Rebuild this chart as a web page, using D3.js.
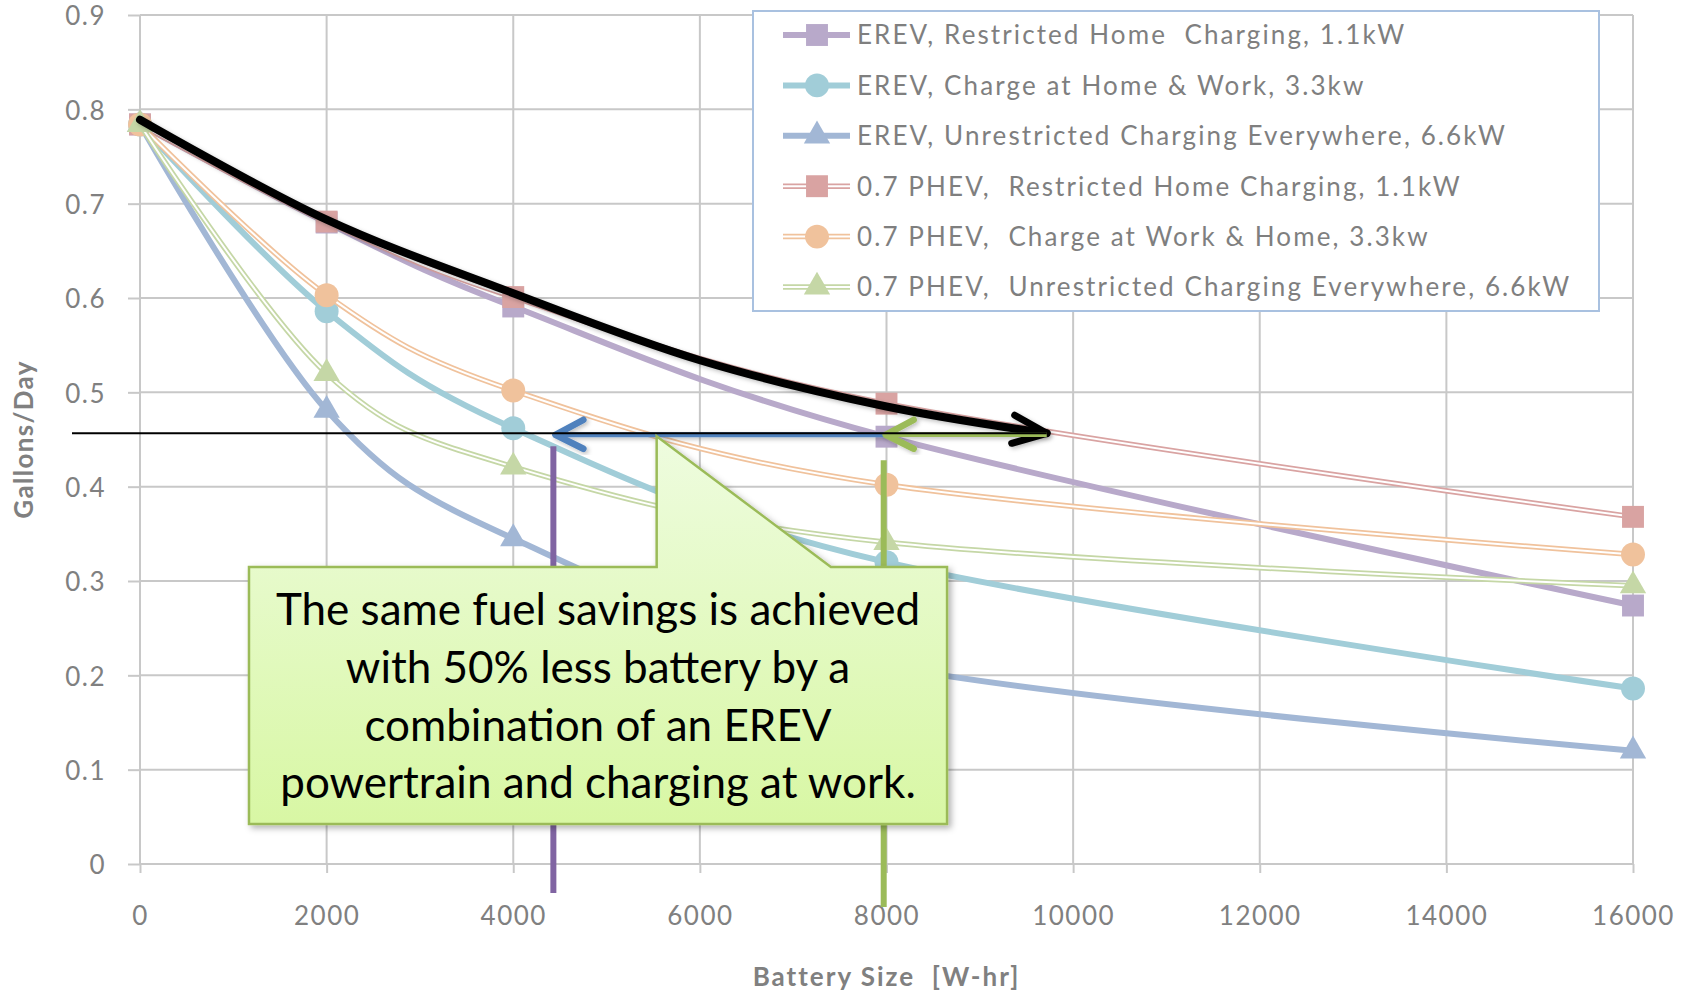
<!DOCTYPE html>
<html>
<head>
<meta charset="utf-8">
<script src="https://cdn.jsdelivr.net/npm/d3@7"></script>
<style>
  body { margin: 0; background: #fff; }
  svg { display: block; font-family: Lato, "Open Sans", sans-serif; }
</style>
</head>
<body>
<div id="chart"></div>
<script>
// chart size, plot area matches the Excel original
const width = 1694, height = 993;
const margin = {top: 15, right: 61, bottom: 129, left: 140};
const innerW = width - margin.left - margin.right,
  innerH = height - margin.top - margin.bottom;

// data (gallons/day vs battery W-hr)
const batterySizes = [0, 2000, 4000, 8000, 16000];
const seriesNames = [
  "EREV, Restricted Home  Charging, 1.1kW",
  "EREV, Charge at Home & Work, 3.3kw",
  "EREV, Unrestricted Charging Everywhere, 6.6kW",
  "0.7 PHEV,  Restricted Home Charging, 1.1kW",
  "0.7 PHEV,  Charge at Work & Home, 3.3kw",
  "0.7 PHEV,  Unrestricted Charging Everywhere, 6.6kW"
];
const erevRestricted   = [0.784, 0.680, 0.591, 0.453, 0.274];
const erevHomeWork     = [0.784, 0.586, 0.462, 0.320, 0.186];
const erevUnrestricted = [0.784, 0.481, 0.345, 0.210, 0.120];
const phevRestricted   = [0.784, 0.681, 0.601, 0.488, 0.368];
const phevWorkHome     = [0.784, 0.603, 0.502, 0.402, 0.328];
const phevUnrestricted = [0.784, 0.520, 0.421, 0.341, 0.295];
const xTicks = [0, 2000, 4000, 6000, 8000, 10000, 12000, 14000, 16000];
const yTicks = [0, 0.1, 0.2, 0.3, 0.4, 0.5, 0.6, 0.7, 0.8, 0.9];

// annotation, in data units
const targetLevel = 0.4566;
const envelopeArrow = [[0, 0.789], [2000, 0.683], [4000, 0.605], [6000, 0.534], [8000, 0.485], [9717, targetLevel]];
const erevMatch = 4430, phevMatch = 7970, phevFull = 9720;
const calloutLines = [
  "The same fuel savings is achieved",
  "with 50% less battery by a",
  "combination of an EREV",
  "powertrain and charging at work."
];

const allValues = [erevRestricted, erevHomeWork, erevUnrestricted, phevRestricted, phevWorkHome, phevUnrestricted];
const styles = [
  {color: "#b8a9ca", double: false, symbol: d3.symbolSquare, size: 480},
  {color: "#a1cdd8", double: false, symbol: d3.symbolCircle, size: 450},
  {color: "#a2b7d5", double: false, symbol: d3.symbolTriangle, size: 300},
  {color: "#d9a3a2", double: true, symbol: d3.symbolSquare, size: 480},
  {color: "#f0c29c", double: true, symbol: d3.symbolCircle, size: 450},
  {color: "#c5d7a6", double: true, symbol: d3.symbolTriangle, size: 300}
];

const series = seriesNames.map((name, i) => ({
  name, style: styles[i],
  points: batterySizes.map((b, j) => [b, allValues[i][j]])
}));

const x = d3.scaleLinear().domain([0, 16000]).range([0, innerW]);
const y = d3.scaleLinear().domain([0, 0.9]).range([innerH, 0]);

const svg = d3.select("#chart").append("svg")
  .attr("width", width).attr("height", height);

const defs = svg.append("defs");
const grad = defs.append("linearGradient").attr("id", "calloutFill")
  .attr("x1", 0).attr("y1", 0).attr("x2", 0).attr("y2", 1);
grad.append("stop").attr("offset", "0%").attr("stop-color", "#eefcdf");
grad.append("stop").attr("offset", "100%").attr("stop-color", "#d8f7a4");
const shadow = defs.append("filter").attr("id", "shadow")
  .attr("x", "-10%").attr("y", "-10%").attr("width", "130%").attr("height", "130%");
shadow.append("feDropShadow").attr("dx", 3).attr("dy", 3).attr("stdDeviation", 3)
  .attr("flood-color", "#000").attr("flood-opacity", 0.3);
const softShadow = defs.append("filter").attr("id", "softShadow")
  .attr("x", "-10%").attr("y", "-10%").attr("width", "130%").attr("height", "130%");
softShadow.append("feDropShadow").attr("dx", 2).attr("dy", 2).attr("stdDeviation", 2)
  .attr("flood-color", "#000").attr("flood-opacity", 0.25);

const g = svg.append("g").attr("transform", `translate(${margin.left},${margin.top})`);

// gridlines
g.append("g").selectAll("line").data(yTicks).join("line")
  .attr("x1", 0).attr("x2", innerW)
  .attr("y1", d => y(d)).attr("y2", d => y(d))
  .attr("stroke", "#c8c8c8").attr("stroke-width", 2);
g.append("g").selectAll("line").data(xTicks).join("line")
  .attr("x1", d => x(d)).attr("x2", d => x(d))
  .attr("y1", 0).attr("y2", innerH)
  .attr("stroke", "#c8c8c8").attr("stroke-width", 2);

// axes
const yAxis = g.append("g")
  .call(d3.axisLeft(y).tickValues(yTicks).tickSize(12).tickPadding(22)
    .tickFormat(d => d === 0 ? "0" : d3.format(".1f")(d)));
const xAxis = g.append("g").attr("transform", `translate(0,${innerH})`)
  .call(d3.axisBottom(x).tickValues(xTicks).tickSize(9).tickFormat(d3.format("d")));
[xAxis, yAxis].forEach(a => {
  a.select(".domain").remove();
  a.selectAll(".tick line").attr("stroke", "#c8c8c8").attr("stroke-width", 2);
  a.selectAll(".tick text").attr("fill", "#808080")
    .style("font-size", "26px").style("letter-spacing", "1.5px")
    .style("font-family", "Lato, sans-serif");
});
xAxis.selectAll(".tick text").attr("y", 61).attr("dy", 0);
yAxis.selectAll(".tick text").attr("dy", "0.38em");

// axis titles
svg.append("text")
  .attr("transform", `translate(33,${margin.top + innerH / 2}) rotate(-90)`)
  .attr("text-anchor", "middle").attr("fill", "#808080")
  .style("font-size", "26px").style("font-weight", "bold").style("letter-spacing", "1.3px")
  .text("Gallons/Day");
svg.append("text")
  .attr("x", margin.left + innerW / 2).attr("y", 986)
  .attr("text-anchor", "middle").attr("fill", "#808080")
  .style("font-size", "26px").style("font-weight", "bold").style("letter-spacing", "2px")
  .style("white-space", "pre")
  .text("Battery Size  [W-hr]");

// series lines
const line = d3.line().x(d => x(d[0])).y(d => y(d[1])).curve(d3.curveCardinal.tension(0));
const sg = g.append("g").selectAll("g").data(series).join("g");
sg.append("path")
  .attr("d", d => line(d.points)).attr("fill", "none")
  .attr("stroke", d => d.style.color)
  .attr("stroke-width", d => d.style.double ? 5.5 : 6);
sg.filter(d => d.style.double).append("path")
  .attr("d", d => line(d.points)).attr("fill", "none")
  .attr("stroke", "#fff").attr("stroke-width", 2);
sg.selectAll(".marker").data(d => d.points.map(p => ({p, s: d.style}))).join("path")
  .attr("class", "marker")
  .attr("transform", d => `translate(${x(d.p[0])},${y(d.p[1])})`)
  .attr("d", d => d3.symbol(d.s.symbol, d.s.size)())
  .attr("fill", d => d.s.color);

// legend
const legend = svg.append("g");
legend.append("rect")
  .attr("x", 753).attr("y", 11).attr("width", 846).attr("height", 300)
  .attr("fill", "#fff").attr("stroke", "#a9c1e0").attr("stroke-width", 2);
const li = legend.selectAll(".item").data(series).join("g").attr("class", "item")
  .attr("transform", (d, i) => `translate(783,${35 + i * 50.4})`);
li.append("line").attr("x1", 0).attr("x2", 67)
  .attr("stroke", d => d.style.color).attr("stroke-width", d => d.style.double ? 5.5 : 6);
li.filter(d => d.style.double).append("line").attr("x1", 0).attr("x2", 67)
  .attr("stroke", "#fff").attr("stroke-width", 2);
li.append("path").attr("transform", "translate(34,0)")
  .attr("d", d => d3.symbol(d.style.symbol, d.style.size)())
  .attr("fill", d => d.style.color);
li.append("text").attr("x", 74).attr("dy", "0.36em")
  .attr("fill", "#7f7f7f").style("font-size", "26px").style("letter-spacing", "2.1px")
  .style("white-space", "pre")
  .text(d => d.name);

// annotation: arrows and markers
const ann = g.append("g");
const curvy = d3.line().x(d => x(d[0])).y(d => y(d[1])).curve(d3.curveCatmullRom);
const tip = [envelopeArrow[envelopeArrow.length - 1][0], targetLevel];
const black = ann.append("g").attr("filter", "url(#softShadow)");
black.append("path").attr("d", curvy(envelopeArrow)).attr("fill", "none")
  .attr("stroke", "#000").attr("stroke-width", 8).attr("stroke-linecap", "round");
black.append("path")
  .attr("d", `M${x(tip[0]) - 32},${y(tip[1]) - 18}L${x(tip[0])},${y(tip[1])}L${x(tip[0]) - 35},${y(tip[1]) + 10}`)
  .attr("fill", "none").attr("stroke", "#000").attr("stroke-width", 7)
  .attr("stroke-linecap", "round").attr("stroke-linejoin", "round");

function leftArrow(from, to, color, shaftW) {
  const a = ann.append("g").attr("filter", "url(#softShadow)");
  const ty = y(targetLevel) + 1.5;
  a.append("line").attr("x1", x(from)).attr("x2", x(to)).attr("y1", ty).attr("y2", ty)
    .attr("stroke", color).attr("stroke-width", shaftW);
  a.append("path")
    .attr("d", `M${x(to) + 30},${ty - 15}L${x(to) + 2},${ty}L${x(to) + 30},${ty + 14}`)
    .attr("fill", "none").attr("stroke", color).attr("stroke-width", 6.5)
    .attr("stroke-linecap", "round").attr("stroke-linejoin", "round");
}
leftArrow(8000, erevMatch, "#4f81bd", 5);
leftArrow(tip[0], phevMatch, "#9bbb59", 4.5);

ann.append("line")
  .attr("x1", -68).attr("x2", x(tip[0]))
  .attr("y1", y(targetLevel)).attr("y2", y(targetLevel))
  .attr("stroke", "#000").attr("stroke-width", 2);

// vertical drop lines
ann.append("line").attr("x1", x(erevMatch)).attr("x2", x(erevMatch))
  .attr("y1", y(targetLevel) + 13).attr("y2", innerH + 29)
  .attr("stroke", "#8064a2").attr("stroke-width", 6);
ann.append("line").attr("x1", x(phevMatch)).attr("x2", x(phevMatch))
  .attr("y1", y(targetLevel) + 27).attr("y2", innerH + 43)
  .attr("stroke", "#9bbb59").attr("stroke-width", 6);

// callout
const bx0 = x(1168), bx1 = x(8649), by0 = y(0.3149), by1 = y(0.0424);
const px0 = x(5537), px1 = x(7404), pTip = y(targetLevel) + 3;
ann.append("path")
  .attr("d", `M${bx0},${by0}L${px0},${by0}L${px0},${pTip}L${px1},${by0}L${bx1},${by0}L${bx1},${by1}L${bx0},${by1}Z`)
  .attr("fill", "url(#calloutFill)").attr("stroke", "#9bbb59").attr("stroke-width", 2.5)
  .attr("filter", "url(#shadow)");
ann.append("g").selectAll("text").data(calloutLines).join("text")
  .attr("x", (bx0 + bx1) / 2).attr("y", (d, i) => 625 + i * 57.8 - margin.top)
  .attr("text-anchor", "middle").attr("fill", "#000")
  .style("font-size", "44px")
  .text(d => d);

ann.append("line").attr("x1", x(phevFull)).attr("x2", x(phevFull))
  .attr("y1", y(targetLevel) + 31).attr("y2", innerH + 35)
  .attr("stroke", "#000").attr("stroke-width", 7)
  .attr("filter", "url(#softShadow)");
</script>
</body>
</html>
